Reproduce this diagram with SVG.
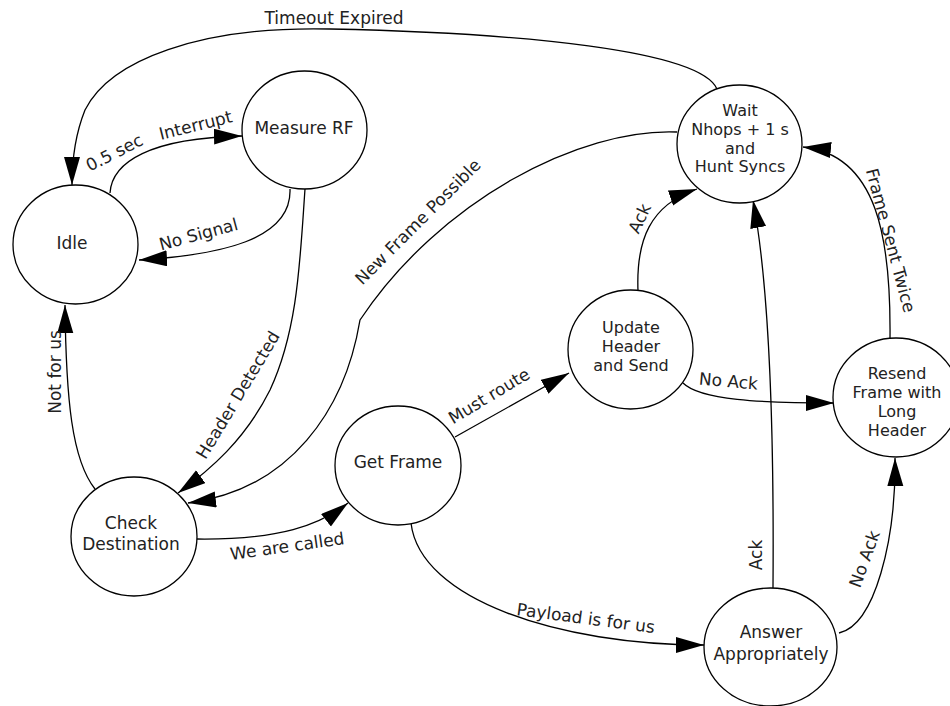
<svg xmlns="http://www.w3.org/2000/svg" width="950" height="706" viewBox="0 0 950 706">
<style>
.node ellipse{fill:#fff;stroke:#000;stroke-width:1.3}
text{font-family:"DejaVu Sans","Liberation Sans",sans-serif;font-size:17px;fill:#222}
.node text{text-anchor:middle}
.node text.t{font-size:16px}
.lbl{text-anchor:middle}
#edges path{fill:none;stroke:#000;stroke-width:1.3;marker-end:url(#arr)}
</style>
<defs>
<marker id="arr" markerUnits="userSpaceOnUse" markerWidth="30" markerHeight="18" refX="28" refY="8" orient="auto">
<path d="M0,0 L28,8 L0,16 z" fill="#000"/>
</marker>
</defs>
<rect width="950" height="706" fill="#fff"/>
<g id="edges">
<path d="M717,89 C700,50 520,33 330,29 C200,26 110,60 85,110 C75,135 72,160 72,185"/>
<path d="M110,193 C112,162 150,138 242,136"/>
<path d="M290,189 C292,240 220,255 139,260"/>
<path d="M305,189 C300,260 298,330 270,390 C245,440 210,470 178,493"/>
<path d="M677,132 C580,128 440,200 360,320 C345,410 290,490 188,503"/>
<path d="M95,489 C72,460 66,400 65,305"/>
<path d="M197,539 C280,540 320,525 348,503"/>
<path d="M455,437 L569,373"/>
<path d="M683,383 C700,400 760,403 834,403"/>
<path d="M638,291 C636,240 650,205 697,189"/>
<path d="M773,588 C774,450 770,290 753,200"/>
<path d="M839,633 C875,625 896,540 895,458"/>
<path d="M890,338 C891,240 878,155 803,147"/>
<path d="M411,523 C420,600 560,645 704,645"/>
<text class="lbl" x="334" y="24">Timeout Expired</text>
<text class="lbl" transform="translate(117,158) rotate(-27)">0.5 sec</text>
<text class="lbl" transform="translate(197,131) rotate(-14)">Interrupt</text>
<text class="lbl" transform="translate(200,240) rotate(-15)">No Signal</text>
<text class="lbl" transform="translate(243,398) rotate(-59)">Header Detected</text>
<text class="lbl" transform="translate(422,226) rotate(-45)">New Frame Possible</text>
<text class="lbl" transform="translate(61,372) rotate(-90)">Not for us</text>
<text class="lbl" transform="translate(288,552) rotate(-8)">We are called</text>
<text class="lbl" transform="translate(492,401) rotate(-31)">Must route</text>
<text class="lbl" transform="translate(728,387) rotate(5)">No Ack</text>
<text class="lbl" transform="translate(645,221) rotate(-65)">Ack</text>
<text class="lbl" transform="translate(762,555) rotate(-90)">Ack</text>
<text class="lbl" transform="translate(870,561) rotate(-70)">No Ack</text>
<text class="lbl" transform="translate(885,242) rotate(75)">Frame Sent Twice</text>
<text class="lbl" transform="translate(585,624) rotate(7.5)">Payload is for us</text>
</g>
<g id="idle" class="node"><ellipse cx="75.5" cy="244.5" rx="62.5" ry="59.5"/><text x="72" y="249">Idle</text></g>
<g id="measure" class="node"><ellipse cx="304.5" cy="130" rx="62.5" ry="59"/><text x="304" y="134">Measure RF</text></g>
<g id="wait" class="node"><ellipse cx="739.5" cy="144" rx="62.5" ry="59"/><text class="t" x="740" y="116">Wait</text><text class="t" x="740" y="135">Nhops + 1 s</text><text class="t" x="740" y="153.5">and</text><text class="t" x="740" y="172">Hunt Syncs</text></g>
<g id="check" class="node"><ellipse cx="134" cy="536.5" rx="63" ry="59.5"/><text x="131" y="529">Check</text><text x="131" y="550">Destination</text></g>
<g id="getframe" class="node"><ellipse cx="398" cy="465.5" rx="63" ry="59.5"/><text x="398" y="468">Get Frame</text></g>
<g id="update" class="node"><ellipse cx="630.5" cy="349.5" rx="62.5" ry="59.5"/><text class="t" x="631" y="333">Update</text><text class="t" x="631" y="352">Header</text><text class="t" x="631" y="371">and Send</text></g>
<g id="resend" class="node"><ellipse cx="896" cy="397.5" rx="63" ry="59.5"/><text class="t" x="897" y="379">Resend</text><text class="t" x="897" y="398">Frame with</text><text class="t" x="897" y="417">Long</text><text class="t" x="897" y="436">Header</text></g>
<g id="answer" class="node"><ellipse cx="770.5" cy="647" rx="66.5" ry="59"/><text x="771" y="638">Answer</text><text x="771" y="660">Appropriately</text></g>
</svg>
